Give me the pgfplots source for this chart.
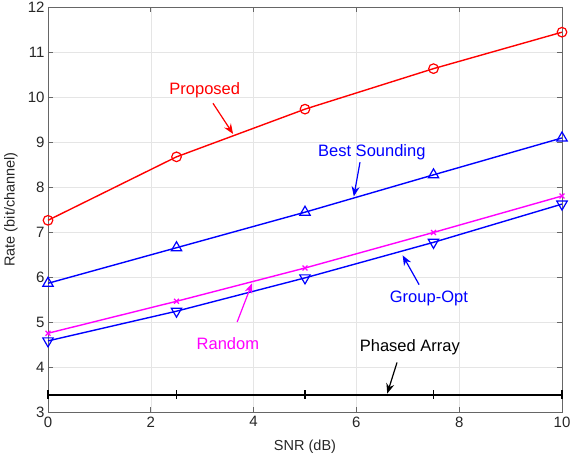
\documentclass[border=0pt]{standalone}
\usepackage{pgfplots}
\pgfplotsset{compat=1.18}
\usepackage{fontspec}
\setmainfont{Liberation Sans}
\usetikzlibrary{arrows.meta}
\definecolor{mred}{RGB}{255,0,0}
\definecolor{mblue}{RGB}{0,0,255}
\definecolor{mmag}{RGB}{255,0,255}
\definecolor{mtext}{RGB}{38,38,38}
\begin{document}
\begin{tikzpicture}[font=\fontsize{14.5}{16}\selectfont]
\begin{axis}[name=ax,
  scale only axis, width=514pt, height=405pt,
  xmin=0, xmax=10, ymin=3, ymax=12,
  xtick={0,2,...,10}, ytick={3,4,...,12},
  grid=major, major grid style={gray!20, line width=0.6pt},
  axis line style={black!60, line width=0.9pt},
  tick style={black!60, line width=0.9pt},
  tick align=inside, major tick length=5pt,
  xlabel={SNR (dB)}, ylabel={Rate (bit/channel)},
  ticklabel style={font=\fontsize{15}{17}\selectfont, text=mtext},
  label style={font=\fontsize{14.5}{16}\selectfont, text=mtext},
  xlabel style={at={(axis description cs:0.5,-0.0864)}, anchor=center},
  ylabel style={at={(axis description cs:-0.072,0.5)}, anchor=center},
  xticklabel style={yshift=-1pt},
  /pgf/number format/assume math mode=true,
  clip=false,
]
\addplot[mred, line width=1.4pt, mark=o, mark size=4.8pt, mark options={line width=1.2pt}]
 coordinates {(0,7.26) (2.5,8.67) (5,9.73) (7.5,10.63) (10,11.44)};
\addplot[mblue, line width=1.4pt, mark=triangle, mark size=6pt, mark options={line width=1.2pt}]
 coordinates {(0,5.86) (2.5,6.65) (5,7.44) (7.5,8.27) (10,9.09)};
\addplot[mmag, line width=1.4pt, mark=x, mark size=3.5pt, mark options={line width=1.2pt}]
 coordinates {(0,4.75) (2.5,5.46) (5,6.2) (7.5,6.99) (10,7.8)};
\addplot[mblue, line width=1.4pt, mark=triangle, mark size=6pt, mark options={line width=1.2pt, rotate=180}]
 coordinates {(0,4.58) (2.5,5.24) (5,5.98) (7.5,6.77) (10,7.62)};
\addplot[black, line width=1.5pt, mark=|, mark size=4.5pt, mark options={line width=1.4pt}]
 coordinates {(0,3.38) (2.5,3.38) (5,3.38) (7.5,3.38) (10,3.38)};

\begin{scope}[font=\fontsize{16.5}{18}\selectfont]
\node[mred] at (axis cs:3.05,10.15) {Proposed};
\draw[mred, line width=1.2pt, -{Stealth[length=10pt,width=8pt]}] (axis cs:3.21,9.86) -- (axis cs:3.6,9.18);
\node[mblue] at (axis cs:6.3,8.77) {Best Sounding};
\draw[mblue, line width=1.2pt, -{Stealth[length=10pt,width=8pt]}] (axis cs:6.07,8.55) -- (axis cs:5.95,7.79);
\node[mmag] at (axis cs:3.5,4.52) {Random};
\draw[mmag, line width=1.2pt, -{Stealth[length=10pt,width=8pt]}] (axis cs:3.68,5.0) -- (axis cs:3.97,5.86);
\node[mblue] at (axis cs:7.41,5.52) {Group-Opt};
\draw[mblue, line width=1.2pt, -{Stealth[length=10pt,width=8pt]}] (axis cs:7.22,5.83) -- (axis cs:6.9,6.48);
\node[black] at (axis cs:7.04,4.43) {Phased Array};
\draw[black, line width=1.2pt, -{Stealth[length=10pt,width=8pt]}] (axis cs:6.79,4.1) -- (axis cs:6.6,3.41);
\end{scope}
\end{axis}
\pgfresetboundingbox
\path[use as bounding box] ([shift={(-48pt,-50pt)}]ax.south west) rectangle ([shift={(8pt,7pt)}]ax.north east);
\end{tikzpicture}
\end{document}
